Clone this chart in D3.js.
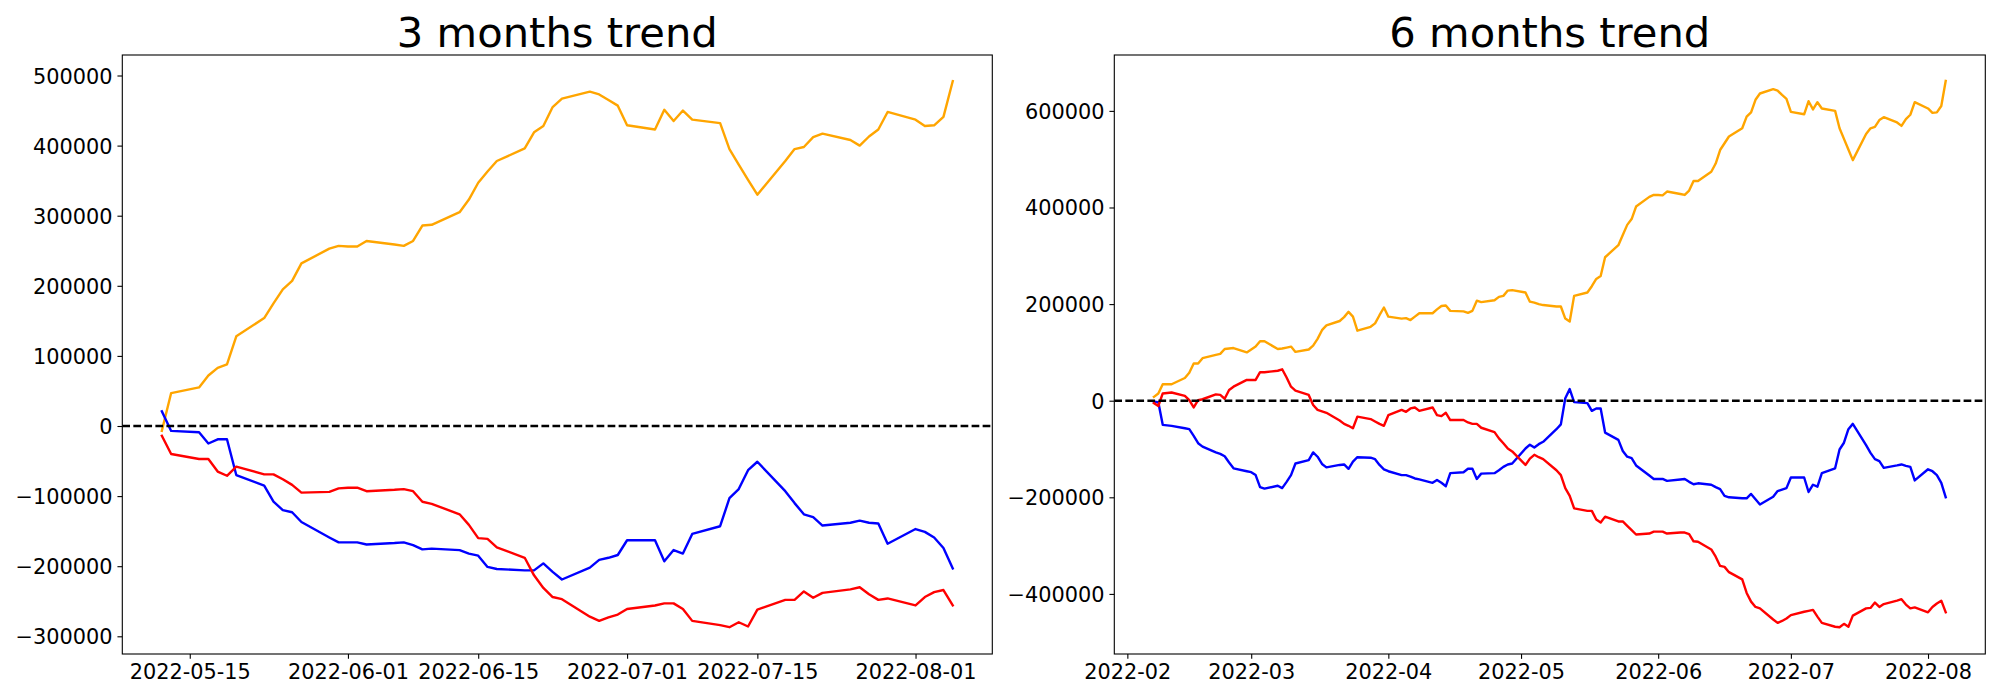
<!DOCTYPE html>
<html><head><meta charset="utf-8">
<script src="https://cdn.jsdelivr.net/npm/d3@7"></script>
<style>body{margin:0;background:#fff}svg{display:block;background:#fff}text{font-family:"DejaVu Sans",sans-serif}</style>
</head><body><svg id="c" width="2000" height="700"></svg>
<script>
// ---------- DATA ----------
const dates3m = ["2022-05-12","2022-05-13","2022-05-16","2022-05-17","2022-05-18","2022-05-19","2022-05-20","2022-05-23","2022-05-24","2022-05-25","2022-05-26","2022-05-27","2022-05-30","2022-05-31",
"2022-06-01","2022-06-02","2022-06-03","2022-06-06","2022-06-07","2022-06-08","2022-06-09","2022-06-10","2022-06-13","2022-06-14","2022-06-15","2022-06-16","2022-06-17","2022-06-20","2022-06-21","2022-06-22","2022-06-23","2022-06-24","2022-06-27","2022-06-28","2022-06-29","2022-06-30",
"2022-07-01","2022-07-04","2022-07-05","2022-07-06","2022-07-07","2022-07-08","2022-07-11","2022-07-12","2022-07-13","2022-07-14","2022-07-15","2022-07-18","2022-07-19","2022-07-20","2022-07-21","2022-07-22","2022-07-25","2022-07-26","2022-07-27","2022-07-28","2022-07-29",
"2022-08-01","2022-08-02","2022-08-03","2022-08-04","2022-08-05"];
const orange3m = [-7000,47000,55000,72000,83000,88000,128000,154000,175000,195000,207000,232000,253000,257000,
256000,256000,264000,259000,257000,264000,286000,287000,305000,323000,347000,363000,378000,396000,419000,428000,455000,467000,477000,473000,465000,457000,
429000,423000,451000,435000,450000,437000,432000,395000,373000,351000,330000,378000,395000,398000,412000,417000,408000,400000,413000,423000,448000,
437000,428000,429000,441000,492000];
const blue3m = [21000,-7000,-9000,-25000,-19000,-19000,-70000,-85000,-108000,-120000,-123000,-137000,-159000,-166000,
-166000,-166000,-169000,-167000,-166000,-170000,-176000,-175000,-177000,-182000,-185000,-201000,-204000,-206000,-206000,-196000,-208000,-219000,-202000,-191000,-188000,-184000,
-163000,-163000,-193000,-177000,-182000,-154000,-143000,-103000,-90000,-63000,-51000,-93000,-110000,-126000,-130000,-142000,-138000,-135000,-138000,-139000,-168000,
-147000,-151000,-159000,-174000,-203000];
const red3m = [-14000,-40000,-47000,-47000,-65000,-71000,-58000,-69000,-69000,-76000,-84000,-95000,-94000,-89000,
-88000,-88000,-93000,-91000,-90000,-93000,-108000,-111000,-126000,-141000,-160000,-161000,-173000,-188000,-213000,-231000,-244000,-247000,-272000,-278000,-273000,-269000,
-261000,-256000,-253000,-253000,-261000,-278000,-284000,-287000,-280000,-286000,-262000,-248000,-248000,-236000,-245000,-238000,-233000,-230000,-240000,-248000,-246000,
-256000,-244000,-237000,-234000,-256000];

const dates6m = ["2022-02-07","2022-02-08","2022-02-09","2022-02-10","2022-02-11","2022-02-14","2022-02-15","2022-02-16","2022-02-17","2022-02-18","2022-02-21","2022-02-22","2022-02-23","2022-02-24","2022-02-25","2022-02-28",
"2022-03-01","2022-03-02","2022-03-03","2022-03-04","2022-03-07","2022-03-08","2022-03-09","2022-03-10","2022-03-11","2022-03-14","2022-03-15","2022-03-16","2022-03-17","2022-03-18","2022-03-21","2022-03-22","2022-03-23","2022-03-24","2022-03-25","2022-03-28","2022-03-29","2022-03-30","2022-03-31",
"2022-04-01","2022-04-04","2022-04-05","2022-04-06","2022-04-07","2022-04-08","2022-04-11","2022-04-12","2022-04-13","2022-04-14","2022-04-15","2022-04-18","2022-04-19","2022-04-20","2022-04-21","2022-04-22","2022-04-25","2022-04-26","2022-04-27","2022-04-28","2022-04-29",
"2022-05-02","2022-05-03","2022-05-04","2022-05-05","2022-05-06","2022-05-09","2022-05-10","2022-05-11","2022-05-12","2022-05-13","2022-05-16","2022-05-17","2022-05-18","2022-05-19","2022-05-20","2022-05-23","2022-05-24","2022-05-25","2022-05-26","2022-05-27","2022-05-30","2022-05-31",
"2022-06-01","2022-06-02","2022-06-03","2022-06-06","2022-06-07","2022-06-08","2022-06-09","2022-06-10","2022-06-13","2022-06-14","2022-06-15","2022-06-16","2022-06-17","2022-06-20","2022-06-21","2022-06-22","2022-06-23","2022-06-24","2022-06-27","2022-06-28","2022-06-29","2022-06-30",
"2022-07-01","2022-07-04","2022-07-05","2022-07-06","2022-07-07","2022-07-08","2022-07-11","2022-07-12","2022-07-13","2022-07-14","2022-07-15","2022-07-18","2022-07-19","2022-07-20","2022-07-21","2022-07-22","2022-07-25","2022-07-26","2022-07-27","2022-07-28","2022-07-29",
"2022-08-01","2022-08-02","2022-08-03","2022-08-04","2022-08-05"];
const orange6m = [8000,15000,34000,34000,34000,47000,58000,77000,77000,88000,95000,97000,107000,108000,109000,100000,
106000,112000,123000,123000,107000,108000,110000,112000,101000,106000,114000,128000,146000,156000,165000,173000,184000,174000,145000,153000,160000,177000,193000,
174000,170000,171000,167000,174000,181000,181000,189000,196000,197000,186000,185000,182000,186000,207000,204000,208000,215000,217000,228000,229000,
224000,205000,203000,200000,198000,195000,195000,170000,164000,217000,224000,237000,252000,258000,297000,322000,343000,364000,376000,402000,422000,426000,
426000,425000,433000,428000,426000,435000,455000,455000,474000,491000,519000,533000,547000,564000,588000,597000,623000,636000,645000,642000,633000,625000,
598000,593000,620000,603000,618000,605000,600000,564000,542000,520000,498000,552000,564000,567000,581000,587000,576000,569000,583000,592000,618000,
605000,596000,597000,610000,662000];
const blue6m = [-2000,-3000,-50000,-51000,-52000,-57000,-59000,-73000,-88000,-95000,-107000,-110000,-115000,-128000,-140000,-146000,
-148000,-154000,-179000,-182000,-176000,-181000,-168000,-154000,-130000,-123000,-107000,-116000,-131000,-138000,-133000,-132000,-141000,-126000,-117000,-118000,-121000,-133000,-142000,
-146000,-154000,-154000,-157000,-161000,-163000,-170000,-164000,-170000,-177000,-150000,-148000,-141000,-141000,-162000,-151000,-150000,-144000,-137000,-132000,-130000,
-99000,-91000,-97000,-90000,-85000,-59000,-49000,5000,24000,-3000,-5000,-21000,-16000,-16000,-66000,-81000,-104000,-116000,-119000,-134000,-155000,-162000,
-162000,-162000,-166000,-163000,-162000,-168000,-173000,-171000,-174000,-179000,-183000,-197000,-200000,-202000,-202000,-193000,-204000,-215000,-199000,-187000,-184000,-181000,
-159000,-159000,-189000,-174000,-178000,-150000,-140000,-101000,-87000,-59000,-48000,-92000,-108000,-121000,-125000,-139000,-134000,-132000,-135000,-137000,-165000,
-142000,-146000,-154000,-170000,-200000];
const red6m = [-5000,-11000,15000,16000,17000,10000,1000,-14000,1000,3000,13000,12000,4000,22000,29000,43000,
43000,43000,59000,59000,62000,65000,48000,29000,21000,12000,-9000,-19000,-22000,-25000,-41000,-48000,-52000,-57000,-33000,-38000,-43000,-48000,-52000,
-30000,-19000,-23000,-16000,-14000,-21000,-14000,-30000,-32000,-25000,-40000,-40000,-45000,-48000,-48000,-56000,-65000,-78000,-88000,-99000,-105000,
-133000,-120000,-112000,-117000,-121000,-144000,-154000,-181000,-197000,-223000,-228000,-228000,-246000,-252000,-240000,-250000,-250000,-259000,-268000,-277000,-275000,-271000,
-271000,-271000,-275000,-273000,-273000,-276000,-291000,-292000,-308000,-323000,-342000,-344000,-355000,-370000,-398000,-416000,-427000,-430000,-453000,-460000,-456000,-451000,
-444000,-437000,-435000,-433000,-447000,-460000,-468000,-469000,-462000,-468000,-445000,-430000,-429000,-418000,-427000,-421000,-414000,-411000,-422000,-430000,-428000,
-438000,-427000,-420000,-414000,-438000];

const xTicks3m = ["2022-05-15","2022-06-01","2022-06-15","2022-07-01","2022-07-15","2022-08-01"];
const xTicks6m = ["2022-02-01","2022-03-01","2022-04-01","2022-05-01","2022-06-01","2022-07-01","2022-08-01"];
const yTicks3m = [-300000,-200000,-100000,0,100000,200000,300000,400000,500000];
const yTicks6m = [-400000,-200000,0,200000,400000,600000];
const titles = ["3 months trend","6 months trend"];
const seriesColors = ["orange","blue","red"];

// ---------- DRAW ----------
const parse = d3.utcParse("%Y-%m-%d");
const svg = d3.select("#c");
svg.append("rect").attr("width",2000).attr("height",700).attr("fill","#fff");

const TOP = 55, BOTTOM = 654;
const TICK = 4.86, PAD = 4.86, FS = 20.83, LW = 2.4;
const fmtY = d => d < 0 ? "\u2212" + Math.abs(d) : String(d);

function panel(o) {
  const dates = o.dates.map(parse);
  const span = dates[dates.length-1] - dates[0];
  const x = d3.scaleUtc()
    .domain([new Date(+dates[0] - 0.05*span), new Date(+dates[dates.length-1] + 0.05*span)])
    .range([o.left, o.right]);
  const y = d3.scaleLinear().domain(o.yDomain).range([BOTTOM, TOP]);
  const g = svg.append("g");

  const line = d3.line().x((d,i) => x(dates[i])).y(d => y(d));
  o.series.forEach((s, k) => {
    g.append("path").attr("d", line(s)).attr("fill","none")
      .attr("stroke", seriesColors[k]).attr("stroke-width", LW)
      .attr("stroke-linejoin","round").attr("stroke-linecap","square");
  });
  g.append("line").attr("x1", o.left).attr("x2", o.right)
    .attr("y1", y(0)).attr("y2", y(0))
    .attr("stroke","#000").attr("stroke-width",LW).attr("stroke-dasharray","7.7,3.33");

  const xa = g.append("g").attr("transform", `translate(0,${BOTTOM})`)
    .call(d3.axisBottom(x).tickValues(o.xTicks.map(parse)).tickFormat(d3.utcFormat(o.xFmt))
      .tickSize(TICK).tickPadding(PAD).tickSizeOuter(0));
  const ya = g.append("g").attr("transform", `translate(${o.left},0)`)
    .call(d3.axisLeft(y).tickValues(o.yTicks).tickFormat(fmtY)
      .tickSize(TICK).tickPadding(PAD).tickSizeOuter(0));
  [xa, ya].forEach(a => {
    a.select(".domain").remove();
    a.selectAll("line").attr("stroke","#000").attr("stroke-width",1.1);
    a.selectAll("text").attr("fill","#000").style("font-size", FS + "px")
      .style("font-family", '"DejaVu Sans", sans-serif');
  });
  ya.selectAll("text").attr("dy","0.36em");

  g.append("rect").attr("x", o.left).attr("y", TOP)
    .attr("width", o.right - o.left).attr("height", BOTTOM - TOP)
    .attr("fill","none").attr("stroke","#000").attr("stroke-width",1.1);

  g.append("text").attr("x", (o.left + o.right)/2).attr("y", 47)
    .attr("text-anchor","middle").style("font-size","41.67px").attr("fill","#000")
    .text(o.title);
}

panel({left:122.3, right:992.3, dates:dates3m, series:[orange3m, blue3m, red3m],
  yDomain:[-325250, 529250], xTicks:xTicks3m, xFmt:"%Y-%m-%d", yTicks:yTicks3m, title:titles[0]});
panel({left:1114.3, right:1985.3, dates:dates6m, series:[orange6m, blue6m, red6m],
  yDomain:[-524400, 715700], xTicks:xTicks6m, xFmt:"%Y-%m", yTicks:yTicks6m, title:titles[1]});
</script></body></html>
